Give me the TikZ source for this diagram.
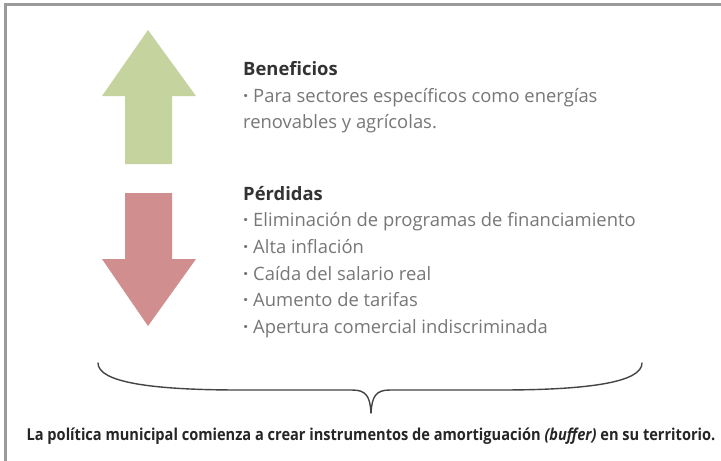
\documentclass[tikz,border=0pt]{standalone}
\usepackage{fontspec}
\setmainfont{Open Sans}
\newfontfamily\condfont[FakeStretch=0.89]{Open Sans}
\definecolor{bordergray}{HTML}{9A9A9A}
\definecolor{upgreen}{HTML}{C5D39F}
\definecolor{downred}{HTML}{D18E8E}
\definecolor{headgray}{HTML}{333333}
\definecolor{bodygray}{HTML}{777777}
\definecolor{bracegray}{HTML}{444444}
\newcommand{\bul}{\textbf{·}~}
\tikzset{
  headtext/.style={anchor=base west, inner sep=0pt, text=headgray, font=\fontsize{18.4}{22}\selectfont\bfseries},
  itemtext/.style={anchor=base west, inner sep=0pt, text=bodygray, font=\fontsize{18.4}{22}\selectfont},
  foottext/.style={anchor=base, inner sep=0pt, text=black!85, font=\condfont\fontsize{16.4}{19}\selectfont\bfseries},
  bracestroke/.style={draw=bracegray, line width=1.4pt, line cap=round, line join=round}
}
\begin{document}
\begin{tikzpicture}[x=1pt,y=-1pt]
\useasboundingbox (0,0) rectangle (721,461);
\fill[white] (0,0) rectangle (721,461);
\draw[bordergray, line width=3pt] (5,461) -- (5,4.5) -- (721,4.5);

% arrows
\fill[upgreen] (148,30) -- (196,96) -- (172,96) -- (172,164) -- (125,164) -- (125,96) -- (102,96) -- cycle;
\fill[downred] (125,193) -- (172,193) -- (172,259) -- (196,259) -- (148,326) -- (102,259) -- (125,259) -- cycle;

% Beneficios
\node[headtext] (ben) at (243,75) {Beneficios};
\node[itemtext] (ben1) at (243,102) {\bul Para sectores específicos como energías};
\node[itemtext] (ben2) at (243,128) {renovables y agrícolas.};

% Perdidas
\node[headtext] (per) at (243,200) {Pérdidas};
\node[itemtext] (per1) at (243,226) {\bul Eliminación de programas de financiamiento};
\node[itemtext] (per2) at (243,253) {\bul Alta inflación};
\node[itemtext] (per3) at (243,280) {\bul Caída del salario real};
\node[itemtext] (per4) at (243,306) {\bul Aumento de tarifas};
\node[itemtext] (per5) at (243,333) {\bul Apertura comercial indiscriminada};

% brace
\coordinate (bl) at (98,363);
\coordinate (br) at (642,363);
\coordinate (bt) at (371,413);
\draw[bracestroke] (bl) .. controls (98,382) and (150,390) .. (240,390) -- (352,390)
  .. controls (366,390) and (370,396) .. (bt);
\draw[bracestroke] (br) .. controls (642,382) and (590,390) .. (500,390) -- (390,390)
  .. controls (376,390) and (372,396) .. (bt);

% footer
\node[foottext] (foot) at (371,440) {La política municipal comienza a crear instrumentos de amortiguación \textit{(buffer)} en su territorio.};
\end{tikzpicture}
\end{document}
